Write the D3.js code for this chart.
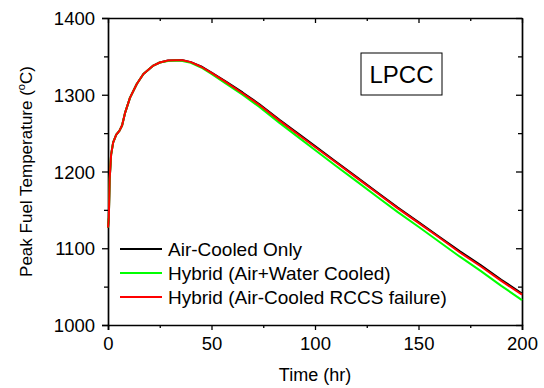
<!DOCTYPE html>
<html>
<head>
<meta charset="utf-8">
<script src="https://cdn.jsdelivr.net/npm/d3@7"></script>
<style>
  html, body { margin: 0; padding: 0; background: #fff; }
  svg { display: block; font-family: "Liberation Sans", Arial, sans-serif; }
</style>
</head>
<body>
<svg id="chart" width="544" height="388"></svg>
<script>
// ---- data ----
const times = [0, 0.4, 0.8, 1.5, 2.5, 4, 5.5, 6.8, 8.2, 10.6, 13.9, 17.1, 21.9, 25, 29, 33, 36, 40, 45, 50, 57, 65, 73, 83, 93, 100, 110, 120, 130, 140, 150, 160, 170, 180, 190, 200];
const airCooledOnly = [1127, 1140, 1190, 1222, 1238, 1248, 1253, 1260, 1276, 1296, 1314, 1327, 1338, 1342, 1344.5, 1345, 1345, 1342.5, 1337, 1329, 1317, 1303, 1288, 1267, 1247, 1233, 1213, 1193, 1173, 1153, 1134, 1115, 1096, 1078, 1059, 1041];
const hybridAirWater = [1127, 1140, 1190, 1222, 1238, 1248, 1253, 1260, 1276, 1296, 1314, 1327, 1338, 1342, 1344, 1344.5, 1344, 1341.5, 1335.5, 1327, 1314.5, 1300, 1284.5, 1263, 1242.5, 1228, 1207.5, 1187.5, 1167, 1147, 1128, 1108.5, 1089, 1070.5, 1051, 1032.5];
const hybridRccsFailure = [1127, 1140, 1190, 1222, 1238, 1248, 1253, 1260, 1276, 1296, 1314, 1327, 1338, 1342, 1344.5, 1345, 1345, 1342.5, 1336.5, 1328.5, 1316.5, 1302, 1287, 1266, 1246, 1232, 1212, 1192, 1172, 1152, 1133, 1114, 1094.5, 1076.5, 1057.5, 1039.5];
const seriesNames = ["Air-Cooled Only", "Hybrid (Air+Water Cooled)", "Hybrid (Air-Cooled RCCS failure)"];
const seriesColors = ["#000000", "#00ff00", "#ff0000"];
const xMajorTicks = [0, 50, 100, 150, 200];
const xMinorTicks = [25, 75, 125, 175];
const yMajorTicks = [1000, 1100, 1200, 1300, 1400];
const yMinorTicks = [1050, 1150, 1250, 1350];
const xLabel = "Time (hr)";
const yLabel = "Peak Fuel Temperature (";
const annotation = "LPCC";

// ---- layout ----
const W = 544, H = 388;
const m = {left: 108, right: 22, top: 18, bottom: 63};
const iw = W - m.left - m.right, ih = H - m.top - m.bottom;
const svg = d3.select("#chart");
const g = svg.append("g").attr("transform", `translate(${m.left},${m.top})`);

const x = d3.scaleLinear().domain([0, 200]).range([0, iw]);
const y = d3.scaleLinear().domain([1000, 1400]).range([ih, 0]);

function styleAxis(sel) {
  sel.select(".domain").attr("stroke", "#000").attr("stroke-width", 1.7);
  sel.selectAll(".tick line").attr("stroke", "#000").attr("stroke-width", 1.3);
  sel.selectAll(".tick text").attr("fill", "#000").attr("font-size", 18.5)
     .attr("font-family", "'Liberation Sans', Arial, sans-serif");
}

// bottom axis
const gx = g.append("g").attr("transform", `translate(0,${ih})`)
  .call(d3.axisBottom(x).tickValues(xMajorTicks).tickSize(5).tickPadding(7).tickFormat(d3.format("d")));
styleAxis(gx);
const gxm = g.append("g").attr("transform", `translate(0,${ih})`)
  .call(d3.axisBottom(x).tickValues(xMinorTicks).tickSize(3).tickFormat(""));
styleAxis(gxm); gxm.select(".domain").remove();

// top axis (ticks pointing inward)
const gt = g.append("g").call(d3.axisBottom(x).tickValues(xMajorTicks).tickSize(5).tickFormat("").tickSizeOuter(0));
styleAxis(gt);
const gtm = g.append("g").call(d3.axisBottom(x).tickValues(xMinorTicks).tickSize(3).tickFormat(""));
styleAxis(gtm); gtm.select(".domain").remove();

// left axis
const gy = g.append("g")
  .call(d3.axisLeft(y).tickValues(yMajorTicks).tickSize(6).tickPadding(7).tickFormat(d3.format("d")));
styleAxis(gy);
gy.selectAll(".tick text").attr("dy", "0.36em");
const gym = g.append("g").call(d3.axisLeft(y).tickValues(yMinorTicks).tickSize(4).tickFormat(""));
styleAxis(gym); gym.select(".domain").remove();

// right axis (ticks pointing inward)
const gr = g.append("g").attr("transform", `translate(${iw},0)`)
  .call(d3.axisLeft(y).tickValues(yMajorTicks).tickSize(6).tickFormat("").tickSizeOuter(0));
styleAxis(gr);
const grm = g.append("g").attr("transform", `translate(${iw},0)`)
  .call(d3.axisLeft(y).tickValues(yMinorTicks).tickSize(4).tickFormat(""));
styleAxis(grm); grm.select(".domain").remove();

// lines
const allSeries = [airCooledOnly, hybridAirWater, hybridRccsFailure];
const line = d3.line().x((d, i) => x(times[i])).y(d => y(d));
allSeries.forEach((vals, k) => {
  g.append("path").datum(vals)
    .attr("fill", "none").attr("stroke", seriesColors[k])
    .attr("stroke-width", 2).attr("stroke-linejoin", "round")
    .attr("d", line);
});

// legend
const legend = g.append("g").attr("transform", `translate(${120 - m.left},${249 - m.top})`);
seriesNames.forEach((name, k) => {
  const row = legend.append("g").attr("transform", `translate(0,${k * 24})`);
  row.append("line").attr("x1", 0).attr("x2", 42).attr("y1", 0).attr("y2", 0)
    .attr("stroke", seriesColors[k]).attr("stroke-width", 2);
  row.append("text").attr("x", 48).attr("y", 0).attr("dy", "0.35em")
    .attr("font-size", 19).attr("fill", "#000").text(name);
});

// annotation box
const box = g.append("g");
box.append("rect").attr("x", 361 - m.left).attr("y", 53 - m.top).attr("width", 81).attr("height", 42)
  .attr("fill", "#fff").attr("stroke", "#000").attr("stroke-width", 1);
box.append("text").attr("x", 401.5 - m.left).attr("y", 74 - m.top).attr("dy", "0.36em")
  .attr("text-anchor", "middle").attr("font-size", 24).attr("fill", "#000").text(annotation);

// axis titles
svg.append("text").attr("x", m.left + iw / 2).attr("y", 381)
  .attr("text-anchor", "middle").attr("font-size", 18).attr("fill", "#000").text(xLabel);
const yt = svg.append("text")
  .attr("transform", `translate(32,${m.top + ih / 2}) rotate(-90)`)
  .attr("text-anchor", "middle").attr("font-size", 17).attr("fill", "#000");
yt.append("tspan").text(yLabel);
yt.append("tspan").attr("font-size", 11).attr("dy", "-0.6em").text("o");
yt.append("tspan").attr("dy", "0.39em").text("C)");
</script>
</body>
</html>
